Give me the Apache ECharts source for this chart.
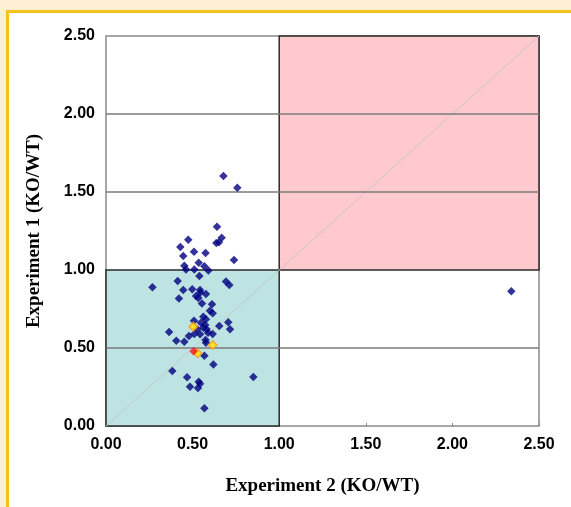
<!DOCTYPE html>
<html><head><meta charset="utf-8">
<script src="https://cdn.jsdelivr.net/npm/echarts@6/dist/echarts.min.js"></script>
<style>
html,body{margin:0;padding:0;width:571px;height:507px;overflow:hidden;background:#fdf0d2;}
#frame{position:absolute;left:6px;top:10px;width:600px;height:540px;background:#fff;border-left:3px solid #f5c21b;border-top:3px solid #f5c21b;}
#chart{position:absolute;left:0;top:0;width:571px;height:507px;}
</style></head>
<body>
<div id="frame"></div>
<div id="chart"></div>
<script>
const xTicks = [0, 0.5, 1.0, 1.5, 2.0, 2.5];
const yTicks = [0, 0.5, 1.0, 1.5, 2.0, 2.5];
const xTitle = 'Experiment 2 (KO/WT)';
const yTitle = 'Experiment 1 (KO/WT)';
const genesBlue = [
[0.678,1.603],[0.758,1.528],[0.641,1.278],[0.668,1.207],[0.652,1.178],[0.637,1.173],
[0.475,1.194],[0.429,1.147],[0.508,1.117],[0.575,1.109],[0.446,1.090],[0.739,1.064],
[0.535,1.047],[0.452,1.028],[0.568,1.024],[0.462,1.004],[0.510,1.004],[0.591,0.996],
[0.539,0.962],[0.268,0.889],[0.414,0.929],[0.693,0.927],[0.712,0.904],[0.446,0.872],
[0.498,0.876],[0.543,0.872],[0.545,0.855],[0.577,0.846],[0.421,0.818],[0.520,0.833],
[0.533,0.821],[0.554,0.786],[0.612,0.780],[0.600,0.739],[0.616,0.722],[0.562,0.701],
[0.577,0.684],[0.508,0.675],[0.548,0.662],[0.573,0.647],[0.562,0.630],[0.581,0.620],
[0.527,0.620],[0.654,0.641],[0.706,0.665],[0.716,0.620],[0.616,0.590],[0.589,0.598],
[0.543,0.588],[0.510,0.590],[0.479,0.577],[0.364,0.603],[0.406,0.547],[0.452,0.540],
[0.575,0.551],[0.577,0.534],[0.568,0.451],[0.620,0.395],[0.383,0.353],[0.468,0.312],
[0.535,0.284],[0.543,0.271],[0.485,0.252],[0.531,0.244],[0.851,0.314],[0.568,0.113],
[2.340,0.863]
];
const genesYellow = [[0.504,0.637],[0.616,0.519],[0.529,0.466]];
const genesRed = [[0.506,0.479]];
const lowBox = [[0,0],[1,1]];
const highBox = [[1,1],[2.5,2.5]];
const gridYs = [0.5, 1.5, 2.0];
const diagonal = [[0,0],[2.5,2.5]];

const chart = echarts.init(document.getElementById('chart'));
const lab = {color:'#000', fontFamily:'Liberation Sans, Arial, sans-serif', fontWeight:'bold', fontSize:16, formatter: v => v.toFixed(2)};
chart.setOption({
  backgroundColor:'transparent',
  animation:false,
  grid:{left:106,right:32,top:36,bottom:81,show:true,borderColor:'#8a8a8a',borderWidth:1.5,backgroundColor:'transparent'},
  xAxis:{type:'value',min:xTicks[0],max:xTicks[xTicks.length-1],interval:0.5,
    axisLine:{show:false},axisTick:{show:true,inside:true,length:3,lineStyle:{color:'#8a8a8a'}},
    splitLine:{show:false},axisLabel:Object.assign({margin:11},lab),
    name:xTitle,nameLocation:'middle',nameGap:51,
    nameTextStyle:{color:'#000',fontFamily:'Liberation Serif, Times New Roman, serif',fontWeight:'bold',fontSize:19}},
  yAxis:{type:'value',min:yTicks[0],max:yTicks[yTicks.length-1],interval:0.5,
    axisLine:{show:false},axisTick:{show:false},
    splitLine:{show:false},axisLabel:Object.assign({margin:11},lab),
    name:yTitle,nameLocation:'middle',nameGap:62,
    nameTextStyle:{color:'#000',fontFamily:'Liberation Serif, Times New Roman, serif',fontWeight:'bold',fontSize:19}},
  series:[
    {type:'scatter',data:[],z:1,silent:true,
     markArea:{silent:true,z:1,data:[
       [{coord:lowBox[0],itemStyle:{color:'#bde3e3',borderColor:'#2a2a2a',borderWidth:1.5}},{coord:lowBox[1]}],
       [{coord:highBox[0],itemStyle:{color:'#ffc9cd',borderColor:'#2a2a2a',borderWidth:1.5}},{coord:highBox[1]}]
     ]},
     markLine:{silent:true,z:2,symbol:'none',label:{show:false},animation:false,
       data:[
         [{coord:diagonal[0],lineStyle:{color:'#c8c8c8',width:1,type:'solid'}},{coord:diagonal[1]}]
       ].concat(gridYs.map(y=>({yAxis:y,lineStyle:{color:'#7a7a7a',width:1.5,type:'solid'}})))
     }},
    {type:'scatter',data:genesBlue,symbol:'diamond',symbolSize:8.5,z:3,itemStyle:{color:'#00007f'}},
    {type:'scatter',data:genesYellow,symbol:'diamond',symbolSize:8.5,z:4,itemStyle:{color:'#ffe400',borderColor:'#ff9a1a',borderWidth:1.5}},
    {type:'scatter',data:genesRed,symbol:'diamond',symbolSize:8.5,z:4,itemStyle:{color:'#ff1010'}}
  ]
});
</script>
</body></html>
